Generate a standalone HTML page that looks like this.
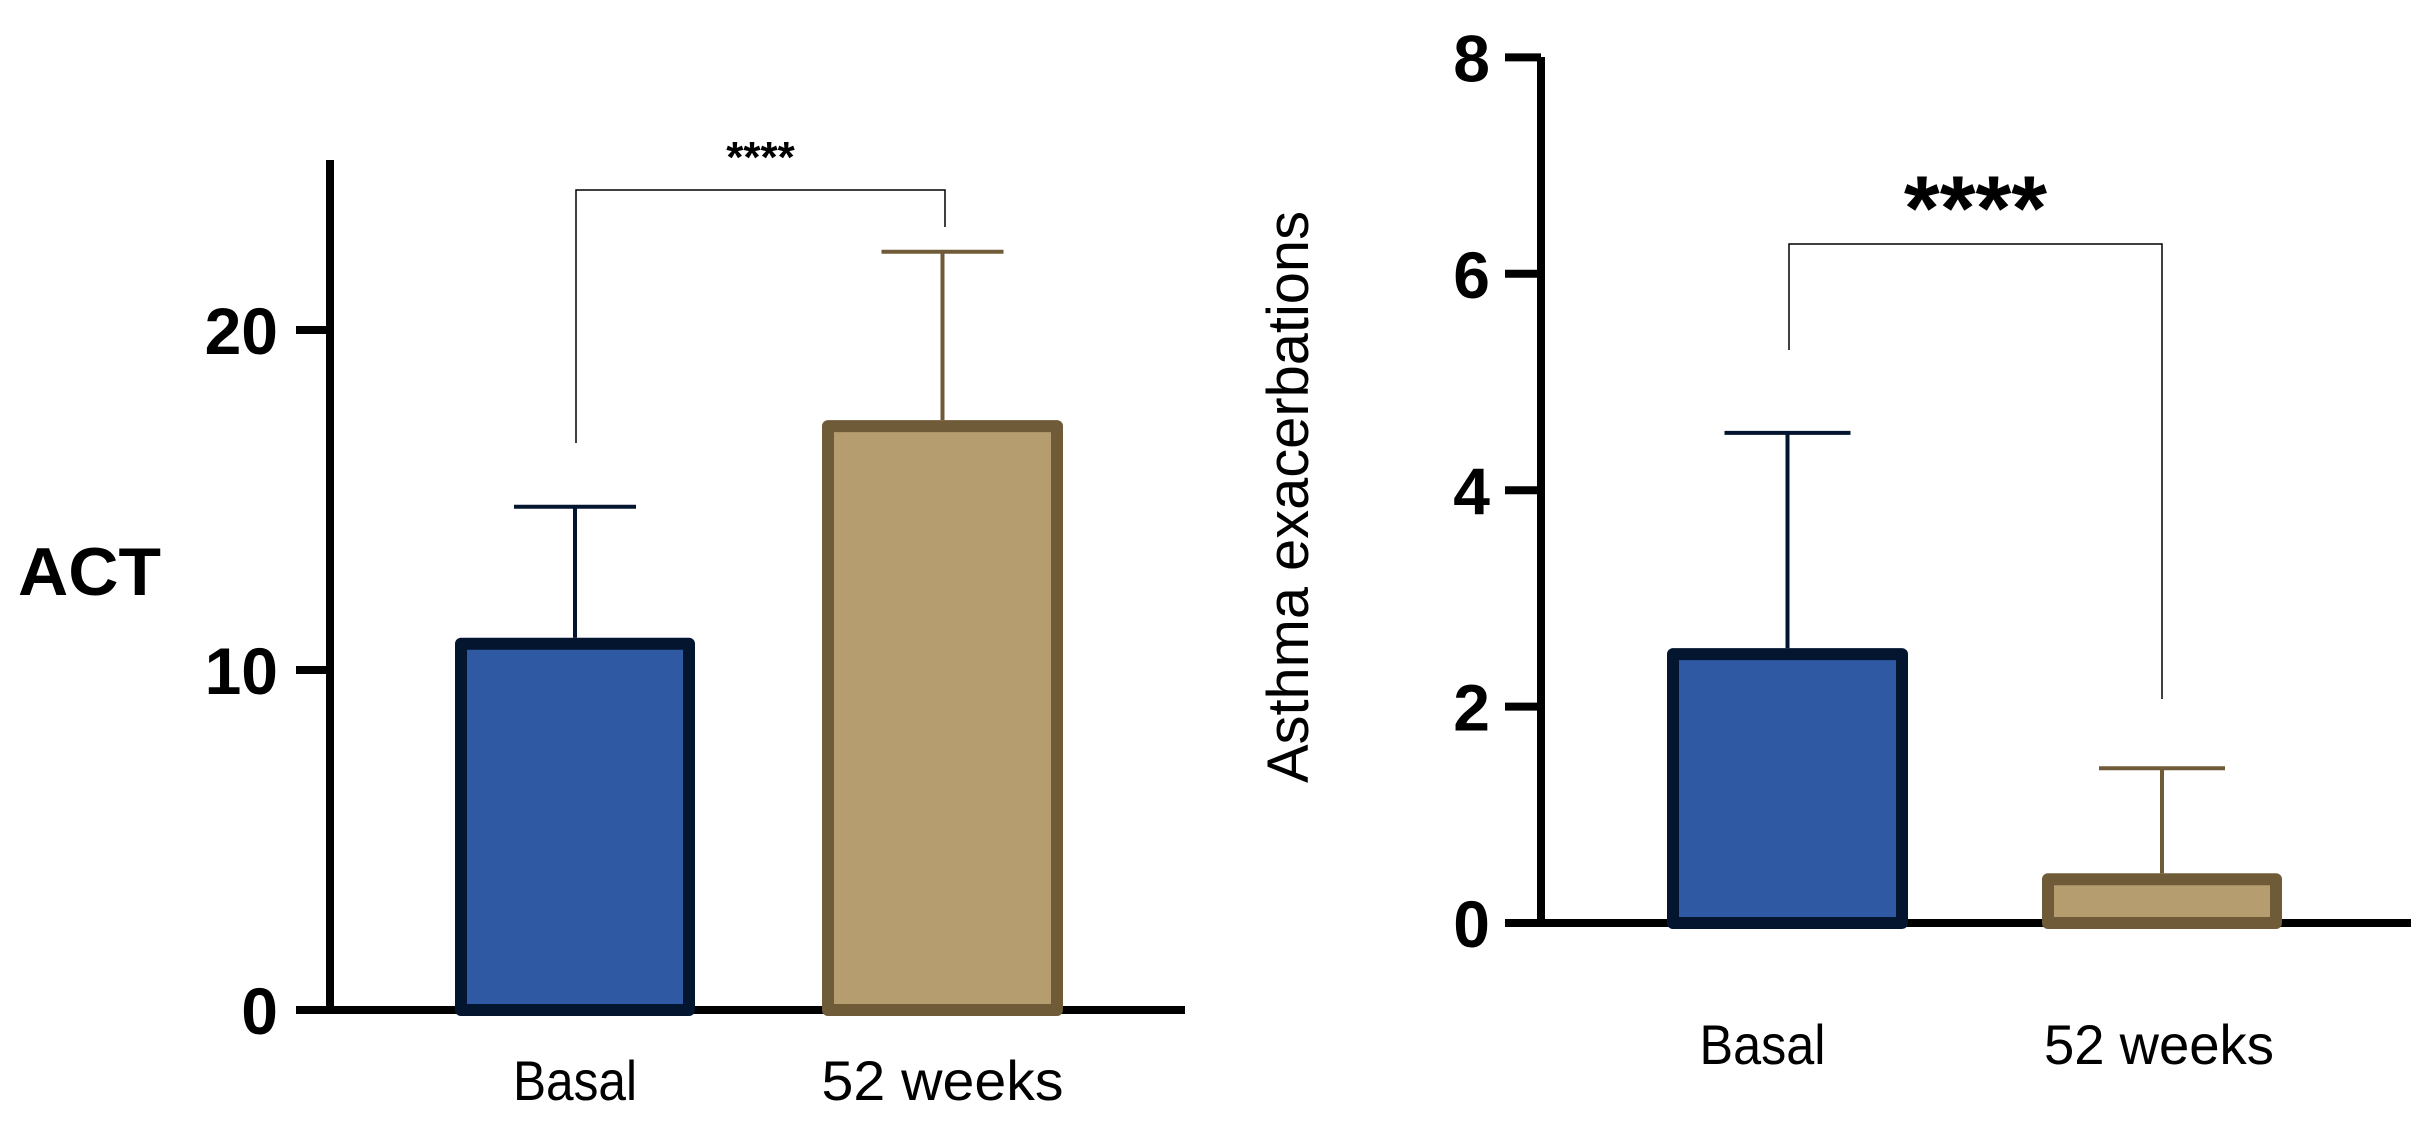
<!DOCTYPE html>
<html><head><meta charset="utf-8"><style>
html,body{margin:0;padding:0;background:#fff;overflow:hidden;}
svg{display:block;font-family:"Liberation Sans",Arial,sans-serif;}
</style></head><body>
<svg id="chart" width="2436" height="1126" viewBox="0 0 2436 1126" xmlns="http://www.w3.org/2000/svg">
<g id="left"></g>
<g id="right"></g>
</svg>
<script>
const categories = ["Basal", "52 weeks"];
const catLabelsRight = ["Basal", "52  weeks"];
const actMeans = [10.95, 17.35];
const actErrTop = [14.8, 22.3];
const actTicks = [0, 10, 20];
const exMeans = [2.54, 0.46];
const exErrTop = [4.53, 1.43];
const exTicks = [0, 2, 4, 6, 8];

const NS = "http://www.w3.org/2000/svg";
function mk(parent, tag, attrs, text) {
  const e = document.createElementNS(NS, tag);
  for (const k in attrs) e.setAttribute(k, attrs[k]);
  if (text !== undefined) e.textContent = text;
  parent.appendChild(e);
  return e;
}
const fills = ["#2f59a3", "#b59d70"];
const strokes = ["#04152f", "#705b38"];

function drawChart(g, cfg) {
  const y = v => cfg.y0 - v * cfg.pxPerUnit;
  const ya = mk(g, "line", {x1: cfg.ax, y1: cfg.axTop, x2: cfg.ax, y2: cfg.y0 + 4, stroke: "#000", "stroke-width": 8});
  
  
  const xa = mk(g, "line", {x1: cfg.tickL, y1: cfg.y0, x2: cfg.axRight, y2: cfg.y0, stroke: "#000", "stroke-width": 8});
  
  
  cfg.ticks.forEach(t => {
    const tl = mk(g, "line", {x1: cfg.tickL, y1: y(t), x2: cfg.ax, y2: y(t), stroke: "#000", "stroke-width": 8});
    
    
    const tx = mk(g, "text", {x: cfg.tickLabelX, y: y(t) + 24, "text-anchor": "end", "font-size": 66, "font-weight": "bold"}, String(t));
    
    
  });
  cfg.means.forEach((m, i) => {
    const [xl, xr] = cfg.bars[i];
    const cx = (xl + xr) / 2;
    const el = mk(g, "line", {x1: cx, y1: y(cfg.err[i]), x2: cx, y2: y(m), stroke: strokes[i], "stroke-width": 4});
    
    
    const cap = mk(g, "line", {x1: cx - cfg.capW, y1: y(cfg.err[i]), x2: cx + cfg.capW, y2: y(cfg.err[i]), stroke: strokes[i], "stroke-width": 4});
    
    
    const r = mk(g, "rect", {x: xl + 6, y: y(m) + 6, width: xr - xl - 12, height: cfg.y0 - y(m) - 6, fill: fills[i], stroke: strokes[i], "stroke-width": 12, "stroke-linejoin": "round"});
    
    
    const lb = mk(g, "text", {x: cx + cfg.labelDx[i], y: cfg.labelY, "text-anchor": "middle", "font-size": 56, textLength: cfg.labelW[i], lengthAdjust: "spacingAndGlyphs"}, cfg.labels[i]);
    
    
  });
  const b = cfg.bracket;
  const br = mk(g, "polyline", {points: `${b.x1},${b.yl} ${b.x1},${b.y} ${b.x2},${b.y} ${b.x2},${b.yr}`, fill: "none", stroke: "#000", "stroke-width": 1.5});
  
  
  const st = mk(g, "text", {x: (b.x1 + b.x2) / 2, y: b.starY, "text-anchor": "middle", "font-size": b.starSize, "font-weight": "bold"}, "****");
  
  
}

const L = document.getElementById("left");
drawChart(L, {
  y0: 1010, pxPerUnit: 34.0, ax: 330, axTop: 160, tickL: 296, axRight: 1185, tickLabelX: 278,
  ticks: actTicks, means: actMeans, err: actErrTop,
  bars: [[455, 695], [822, 1063]], capW: 61, labelY: 1100, labels: categories, labelW: [124, 242], labelDx: [0, 0],
  bracket: {x1: 576, x2: 945, y: 190, yl: 443, yr: 227, starY: 172, starSize: 44}
});
const actT = mk(L, "text", {x: 18, y: 595, "font-size": 68, "font-weight": "bold", textLength: 143, lengthAdjust: "spacingAndGlyphs"}, "ACT");



const R = document.getElementById("right");
drawChart(R, {
  y0: 923, pxPerUnit: 108.2, ax: 1541, axTop: 57, tickL: 1505, axRight: 2411, tickLabelX: 1490,
  ticks: exTicks, means: exMeans, err: exErrTop,
  bars: [[1667, 1908], [2042, 2282]], capW: 63, labelY: 1064, labels: catLabelsRight, labelW: [126, 230], labelDx: [-25, -3],
  bracket: {x1: 1789, x2: 2162, y: 244, yl: 350, yr: 699, starY: 240, starSize: 92}
});
const exT = mk(R, "text", {x: 0, y: 0, "text-anchor": "middle", "font-size": 58, textLength: 572, lengthAdjust: "spacingAndGlyphs", transform: "translate(1308,497) rotate(-90)"}, "Asthma exacerbations");


</script>
</body></html>
